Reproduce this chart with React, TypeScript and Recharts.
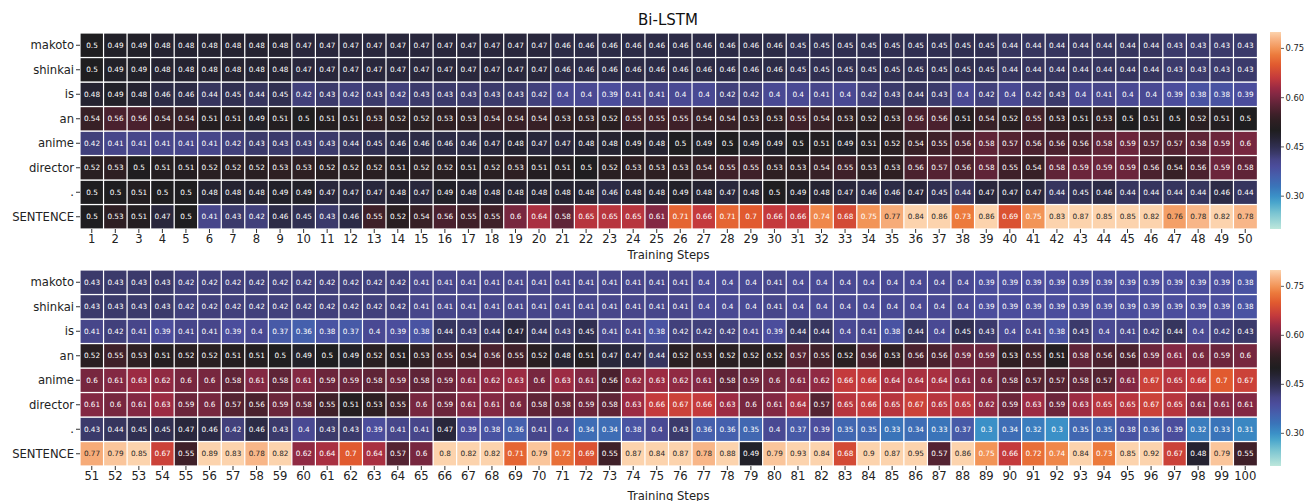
import React from 'react';
import { Bar, BarChart, XAxis, YAxis } from 'recharts';

const FONT = '"DejaVu Sans", sans-serif';

// rows top to bottom
const ROWS = ['makoto', 'shinkai', 'is', 'an', 'anime', 'director', '.', 'SENTENCE'];
const STEPS_TOP = Array.from({ length: 50 }, (_, i) => i + 1);
const STEPS_BOTTOM = Array.from({ length: 50 }, (_, i) => i + 51);
const COLORBAR_TICKS = [0.3, 0.45, 0.6, 0.75];
const V_MIN = 0.2;
const V_MAX = 0.8;

// steps 1-50
const makotoTop = [0.5, 0.49, 0.49, 0.48, 0.48, 0.48, 0.48, 0.48, 0.48, 0.47, 0.47, 0.47, 0.47, 0.47, 0.47, 0.47, 0.47, 0.47, 0.47, 0.47, 0.46, 0.46, 0.46, 0.46, 0.46, 0.46, 0.46, 0.46, 0.46, 0.46, 0.45, 0.45, 0.45, 0.45, 0.45, 0.45, 0.45, 0.45, 0.45, 0.44, 0.44, 0.44, 0.44, 0.44, 0.44, 0.44, 0.43, 0.43, 0.43, 0.43];
const shinkaiTop = [0.5, 0.49, 0.49, 0.48, 0.48, 0.48, 0.48, 0.48, 0.48, 0.47, 0.47, 0.47, 0.47, 0.47, 0.47, 0.47, 0.47, 0.47, 0.47, 0.47, 0.46, 0.46, 0.46, 0.46, 0.46, 0.46, 0.46, 0.46, 0.46, 0.46, 0.45, 0.45, 0.45, 0.45, 0.45, 0.45, 0.45, 0.45, 0.45, 0.44, 0.44, 0.44, 0.44, 0.44, 0.44, 0.44, 0.43, 0.43, 0.43, 0.43];
const isTop = [0.48, 0.49, 0.48, 0.46, 0.46, 0.44, 0.45, 0.44, 0.45, 0.42, 0.43, 0.42, 0.43, 0.42, 0.43, 0.43, 0.43, 0.43, 0.43, 0.42, 0.4, 0.4, 0.39, 0.41, 0.41, 0.4, 0.4, 0.42, 0.42, 0.4, 0.4, 0.41, 0.4, 0.42, 0.43, 0.44, 0.43, 0.4, 0.42, 0.4, 0.42, 0.43, 0.4, 0.41, 0.4, 0.4, 0.39, 0.38, 0.38, 0.39];
const anTop = [0.54, 0.56, 0.56, 0.54, 0.54, 0.51, 0.51, 0.49, 0.51, 0.5, 0.51, 0.51, 0.53, 0.52, 0.52, 0.53, 0.53, 0.54, 0.54, 0.54, 0.53, 0.53, 0.52, 0.55, 0.55, 0.55, 0.54, 0.54, 0.53, 0.53, 0.55, 0.54, 0.53, 0.52, 0.53, 0.56, 0.56, 0.51, 0.54, 0.52, 0.55, 0.53, 0.51, 0.53, 0.5, 0.51, 0.5, 0.52, 0.51, 0.5];
const animeTop = [0.42, 0.41, 0.41, 0.41, 0.41, 0.41, 0.42, 0.43, 0.43, 0.43, 0.43, 0.44, 0.45, 0.46, 0.46, 0.46, 0.46, 0.47, 0.48, 0.47, 0.47, 0.48, 0.48, 0.49, 0.48, 0.5, 0.49, 0.5, 0.49, 0.49, 0.5, 0.51, 0.49, 0.51, 0.52, 0.54, 0.55, 0.56, 0.58, 0.57, 0.56, 0.56, 0.56, 0.58, 0.59, 0.57, 0.57, 0.58, 0.59, 0.6];
const directorTop = [0.52, 0.53, 0.5, 0.51, 0.51, 0.52, 0.52, 0.52, 0.53, 0.53, 0.52, 0.52, 0.52, 0.51, 0.52, 0.52, 0.51, 0.52, 0.53, 0.51, 0.51, 0.5, 0.52, 0.53, 0.53, 0.53, 0.54, 0.55, 0.55, 0.53, 0.53, 0.54, 0.55, 0.53, 0.53, 0.56, 0.57, 0.56, 0.58, 0.55, 0.54, 0.58, 0.59, 0.59, 0.59, 0.56, 0.54, 0.56, 0.59, 0.58];
const periodTop = [0.5, 0.5, 0.51, 0.5, 0.5, 0.48, 0.48, 0.48, 0.49, 0.49, 0.47, 0.47, 0.47, 0.48, 0.47, 0.49, 0.48, 0.48, 0.48, 0.48, 0.48, 0.48, 0.46, 0.48, 0.48, 0.49, 0.48, 0.47, 0.48, 0.5, 0.49, 0.48, 0.47, 0.46, 0.46, 0.47, 0.45, 0.44, 0.47, 0.47, 0.47, 0.44, 0.45, 0.46, 0.44, 0.44, 0.44, 0.44, 0.46, 0.44];
const sentenceTop = [0.5, 0.53, 0.51, 0.47, 0.5, 0.41, 0.43, 0.42, 0.46, 0.45, 0.43, 0.46, 0.55, 0.52, 0.54, 0.56, 0.55, 0.55, 0.6, 0.64, 0.58, 0.65, 0.65, 0.65, 0.61, 0.71, 0.66, 0.71, 0.7, 0.66, 0.66, 0.74, 0.68, 0.75, 0.77, 0.84, 0.86, 0.73, 0.86, 0.69, 0.75, 0.83, 0.87, 0.85, 0.85, 0.82, 0.76, 0.78, 0.82, 0.78];

// steps 51-100
const makotoBottom = [0.43, 0.43, 0.43, 0.43, 0.42, 0.42, 0.42, 0.42, 0.42, 0.42, 0.42, 0.42, 0.42, 0.42, 0.41, 0.41, 0.41, 0.41, 0.41, 0.41, 0.41, 0.41, 0.41, 0.41, 0.41, 0.41, 0.4, 0.4, 0.4, 0.41, 0.4, 0.4, 0.4, 0.4, 0.4, 0.4, 0.4, 0.4, 0.39, 0.39, 0.39, 0.39, 0.39, 0.39, 0.39, 0.39, 0.39, 0.39, 0.39, 0.38];
const shinkaiBottom = [0.43, 0.43, 0.43, 0.43, 0.42, 0.42, 0.42, 0.42, 0.42, 0.42, 0.42, 0.42, 0.42, 0.42, 0.41, 0.41, 0.41, 0.41, 0.41, 0.41, 0.41, 0.41, 0.41, 0.41, 0.41, 0.41, 0.4, 0.4, 0.4, 0.41, 0.4, 0.4, 0.4, 0.4, 0.4, 0.4, 0.4, 0.4, 0.39, 0.39, 0.39, 0.39, 0.39, 0.39, 0.39, 0.39, 0.39, 0.39, 0.39, 0.38];
const isBottom = [0.41, 0.42, 0.41, 0.39, 0.41, 0.41, 0.39, 0.4, 0.37, 0.36, 0.38, 0.37, 0.4, 0.39, 0.38, 0.44, 0.43, 0.44, 0.47, 0.44, 0.43, 0.45, 0.41, 0.41, 0.38, 0.42, 0.42, 0.42, 0.41, 0.39, 0.44, 0.44, 0.4, 0.41, 0.38, 0.44, 0.4, 0.45, 0.43, 0.4, 0.41, 0.38, 0.43, 0.4, 0.41, 0.42, 0.44, 0.4, 0.42, 0.43];
const anBottom = [0.52, 0.55, 0.53, 0.51, 0.52, 0.52, 0.51, 0.51, 0.5, 0.49, 0.5, 0.49, 0.52, 0.51, 0.53, 0.55, 0.54, 0.56, 0.55, 0.52, 0.48, 0.51, 0.47, 0.47, 0.44, 0.52, 0.53, 0.52, 0.52, 0.52, 0.57, 0.55, 0.52, 0.56, 0.53, 0.56, 0.56, 0.59, 0.59, 0.53, 0.55, 0.51, 0.58, 0.56, 0.56, 0.59, 0.61, 0.6, 0.59, 0.6];
const animeBottom = [0.6, 0.61, 0.63, 0.62, 0.6, 0.6, 0.58, 0.61, 0.58, 0.61, 0.59, 0.59, 0.58, 0.59, 0.58, 0.59, 0.61, 0.62, 0.63, 0.6, 0.63, 0.61, 0.56, 0.62, 0.63, 0.62, 0.61, 0.58, 0.59, 0.6, 0.61, 0.62, 0.66, 0.66, 0.64, 0.64, 0.64, 0.61, 0.6, 0.58, 0.57, 0.57, 0.58, 0.57, 0.61, 0.67, 0.65, 0.66, 0.7, 0.67];
const directorBottom = [0.61, 0.6, 0.61, 0.63, 0.59, 0.6, 0.57, 0.56, 0.59, 0.58, 0.55, 0.51, 0.53, 0.55, 0.6, 0.59, 0.61, 0.61, 0.6, 0.58, 0.58, 0.59, 0.58, 0.63, 0.66, 0.67, 0.66, 0.63, 0.6, 0.61, 0.64, 0.57, 0.65, 0.66, 0.65, 0.67, 0.65, 0.65, 0.62, 0.59, 0.63, 0.59, 0.63, 0.65, 0.65, 0.67, 0.65, 0.61, 0.61, 0.61];
const periodBottom = [0.43, 0.44, 0.45, 0.45, 0.47, 0.46, 0.42, 0.46, 0.43, 0.4, 0.43, 0.43, 0.39, 0.41, 0.41, 0.47, 0.39, 0.38, 0.36, 0.41, 0.4, 0.34, 0.34, 0.38, 0.4, 0.43, 0.36, 0.36, 0.35, 0.4, 0.37, 0.39, 0.35, 0.35, 0.33, 0.34, 0.33, 0.37, 0.3, 0.34, 0.32, 0.3, 0.35, 0.35, 0.38, 0.36, 0.39, 0.32, 0.33, 0.31];
const sentenceBottom = [0.77, 0.79, 0.85, 0.67, 0.55, 0.89, 0.83, 0.78, 0.82, 0.62, 0.64, 0.7, 0.64, 0.57, 0.6, 0.8, 0.82, 0.82, 0.71, 0.79, 0.72, 0.69, 0.55, 0.87, 0.84, 0.87, 0.78, 0.88, 0.49, 0.79, 0.93, 0.84, 0.68, 0.9, 0.87, 0.95, 0.57, 0.86, 0.75, 0.66, 0.72, 0.74, 0.84, 0.73, 0.85, 0.92, 0.67, 0.48, 0.79, 0.55];

const TOP_ROWS = [makotoTop, shinkaiTop, isTop, anTop, animeTop, directorTop, periodTop, sentenceTop];
const BOTTOM_ROWS = [makotoBottom, shinkaiBottom, isBottom, anBottom, animeBottom, directorBottom, periodBottom, sentenceBottom];

// rough icefire
const ICEFIRE: [number, string][] = [
    [0.2, '#bde7db'],
    [0.25, '#78c3d1'],
    [0.28, '#4aa6cc'],
    [0.3, '#3b90c7'],
    [0.33, '#3a74b9'],
    [0.36, '#4560ad'],
    [0.39, '#4b4d9c'],
    [0.41, '#47468a'],
    [0.43, '#3b3a6b'],
    [0.45, '#302f51'],
    [0.48, '#252331'],
    [0.5, '#1f1e20'],
    [0.53, '#2e1f23'],
    [0.55, '#3f2029'],
    [0.58, '#5f2437'],
    [0.61, '#832843'],
    [0.63, '#9c2b43'],
    [0.66, '#c43a3c'],
    [0.7, '#e15a2f'],
    [0.73, '#ec7a3c'],
    [0.75, '#f29457'],
    [0.78, '#f8b688'],
    [0.8, '#fcd3ad'],
];

function hexRgb(h: string): number[] {
    return [1, 3, 5].map((i) => parseInt(h.slice(i, i + 2), 16));
}

function colorRgb(v: number): number[] {
    const t = Math.min(V_MAX, Math.max(V_MIN, v));
    for (let i = 1; i < ICEFIRE.length; i++) {
        const [v1, c1] = ICEFIRE[i];
        if (t <= v1) {
            const [v0, c0] = ICEFIRE[i - 1];
            const f = (t - v0) / (v1 - v0);
            const a = hexRgb(c0);
            const b = hexRgb(c1);
            return a.map((x, k) => Math.round(x + (b[k] - x) * f));
        }
    }
    return hexRgb(ICEFIRE[ICEFIRE.length - 1][1]);
}

function colorOf(v: number): string {
    const [r, g, b] = colorRgb(v);
    return `rgb(${r},${g},${b})`;
}

function textColorOf(v: number): string {
    const lin = colorRgb(v).map((c) => {
        const s = c / 255;
        return s <= 0.03928 ? s / 12.92 : Math.pow((s + 0.055) / 1.055, 2.4);
    });
    const lum = 0.2126 * lin[0] + 0.7152 * lin[1] + 0.0722 * lin[2];
    return lum > 0.408 ? '#262626' : '#ffffff';
}

function buildTable(steps: number[], rows: number[][]) {
    return steps.map((step, i) => {
        const d: Record<string, number> = { step };
        rows.forEach((r, k) => {
            d[`r${k}`] = r[i];
            d[`h${k}`] = 1;
        });
        return d;
    });
}

const topData = buildTable(STEPS_TOP, TOP_ROWS);
const bottomData = buildTable(STEPS_BOTTOM, BOTTOM_ROWS);

function HeatCell(props: any) {
    const { x, y, width, height, v } = props;
    if (v == null) return null;
    return (
        <g>
            <rect x={x} y={y} width={width} height={height} fill={colorOf(v)} stroke="#ffffff" strokeWidth={1.2} />
            <text
                x={x + width / 2}
                y={y + height / 2}
                dy="0.35em"
                textAnchor="middle"
                fontSize={7.3}
                fontFamily={FONT}
                fill={textColorOf(v)}
            >
                {String(v)}
            </text>
        </g>
    );
}

function Panel({ data, height, xHeight, labelOffset }: { data: any[]; height: number; xHeight: number; labelOffset: number }) {
    const order = [7, 6, 5, 4, 3, 2, 1, 0];
    return (
        <BarChart
            width={1304}
            height={height}
            data={data}
            margin={{ top: 33, right: 47, bottom: 0, left: 0 }}
            barCategoryGap={0}
            barGap={0}
        >
            <XAxis
                dataKey="step"
                interval={0}
                axisLine={false}
                tickSize={4}
                tickMargin={2}
                height={xHeight}
                tickLine={{ stroke: '#333' }}
                tick={{ fontSize: 11.6, fill: '#222', fontFamily: FONT }}
                label={{
                    value: 'Training Steps',
                    position: 'insideBottom',
                    offset: labelOffset,
                    fontSize: 11.6,
                    fill: '#222',
                    fontFamily: FONT,
                }}
            />
            <YAxis
                type="number"
                domain={[0, 8]}
                ticks={[0.5, 1.5, 2.5, 3.5, 4.5, 5.5, 6.5, 7.5]}
                interval={0}
                tickFormatter={(v: number) => ROWS[7 - Math.floor(v)]}
                width={80}
                axisLine={false}
                tickSize={4}
                tickMargin={2}
                tickLine={{ stroke: '#333' }}
                tick={{ fontSize: 11.6, fill: '#222', fontFamily: FONT }}
            />
            {order.map((k) => (
                <Bar
                    key={k}
                    dataKey={`h${k}`}
                    stackId="cells"
                    isAnimationActive={false}
                    shape={(p: any) => (
                        <HeatCell {...p} v={p.payload ? p.payload[`r${k}`] : undefined} />
                    )}
                />
            ))}
        </BarChart>
    );
}

function ColorBar({ top, height }: { top: number; height: number }) {
    const id = `cb${top}`;
    const stops = ICEFIRE.map(([v, c]) => ({ off: (V_MAX - v) / (V_MAX - V_MIN), c }));
    return (
        <svg width={50} height={height + 10} style={{ position: 'absolute', left: 1265, top: top - 5 }}>
            <defs>
                <linearGradient id={id} x1="0" y1="0" x2="0" y2="1">
                    {stops
                        .slice()
                        .reverse()
                        .map((s) => (
                            <stop key={s.off} offset={s.off} stopColor={s.c} />
                        ))}
                </linearGradient>
            </defs>
            <rect x={5} y={5} width={11} height={height} fill={`url(#${id})`} />
            {COLORBAR_TICKS.map((t) => {
                const y = 5 + ((V_MAX - t) / (V_MAX - V_MIN)) * height;
                return (
                    <g key={t}>
                        <line x1={16} x2={19} y1={y} y2={y} stroke="#333" strokeWidth={0.8} />
                        <text x={20.5} y={y} dy="0.35em" fontSize={8.4} fontFamily={FONT} fill="#222">
                            {t.toFixed(2)}
                        </text>
                    </g>
                );
            })}
        </svg>
    );
}

export default function App() {
    return (
        <div style={{ position: 'absolute', left: 0, top: 0, width: 1304, height: 501, background: '#fff', fontFamily: FONT }}>
            <div
                style={{
                    position: 'absolute',
                    left: 568,
                    width: 200,
                    top: 11,
                    textAlign: 'center',
                    fontSize: 15,
                    lineHeight: '18px',
                    color: '#111',
                }}
            >
                Bi-LSTM
            </div>
            <div style={{ position: 'absolute', left: 0, top: 0 }}>
                <Panel data={topData} height={270} xHeight={41} labelOffset={11} />
            </div>
            <div style={{ position: 'absolute', left: 0, top: 237 }}>
                <Panel data={bottomData} height={264} xHeight={35} labelOffset={1} />
            </div>
            <ColorBar top={32} height={197} />
            <ColorBar top={270} height={196} />
        </div>
    );
}
